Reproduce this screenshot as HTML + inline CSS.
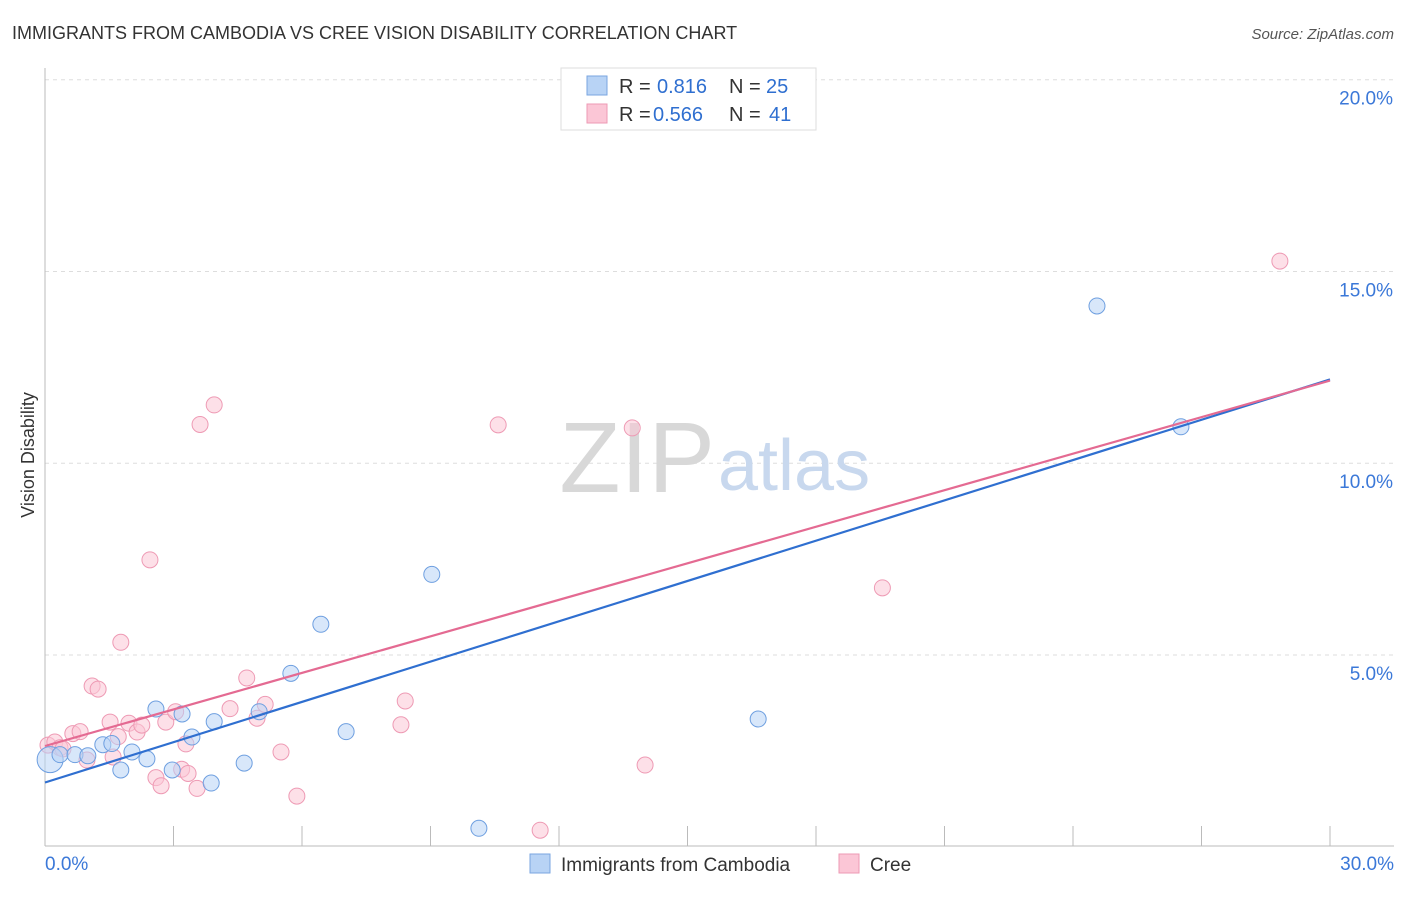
<!DOCTYPE html>
<html><head><meta charset="utf-8"><style>
body{margin:0;background:#fff;font-family:"Liberation Sans",sans-serif;}
svg text{font-family:"Liberation Sans",sans-serif;}
</style></head><body>
<svg id="chart" width="1406" height="892">
<text x="12" y="39" font-size="18" fill="#333">IMMIGRANTS FROM CAMBODIA VS CREE VISION DISABILITY CORRELATION CHART</text>
<text x="1394" y="39" font-size="15" fill="#555" font-style="italic" text-anchor="end">Source: ZipAtlas.com</text>
<g id="grid"></g>
<text x="715" y="492" font-size="100" fill="#d8d8d8" font-family="Liberation Serif" text-anchor="end">ZIP</text>
<text x="718" y="490" font-size="72" fill="#c8d8ee">atlas</text>
<text transform="translate(34,455) rotate(-90)" font-size="18" fill="#333" text-anchor="middle">Vision Disability</text>
<g id="points"></g>
<g id="lines"></g>
<g>
<rect x="561" y="68" width="255" height="62" fill="#fff" stroke="#ddd"/>
<rect x="587" y="76" width="20" height="19" fill="#b8d3f5" stroke="#7aa6e0"/>
<rect x="587" y="104" width="20" height="19" fill="#fbc6d6" stroke="#ee9ab4"/>
<text x="619" y="93" font-size="20" fill="#333">R =</text>
<text x="657" y="93" font-size="20" fill="#2f6fd0">0.816</text>
<text x="729" y="93" font-size="20" fill="#333">N =</text>
<text x="766" y="93" font-size="20" fill="#2f6fd0">25</text>
<text x="619" y="121" font-size="20" fill="#333">R =</text>
<text x="653" y="121" font-size="20" fill="#2f6fd0">0.566</text>
<text x="729" y="121" font-size="20" fill="#333">N =</text>
<text x="769" y="121" font-size="20" fill="#2f6fd0">41</text>
</g>
<g>
<rect x="530" y="854" width="20" height="19" fill="#b8d3f5" stroke="#7aa6e0"/>
<text x="561" y="871" font-size="19" fill="#333">Immigrants from Cambodia</text>
<rect x="839" y="854" width="20" height="19" fill="#fbc6d6" stroke="#ee9ab4"/>
<text x="870" y="871" font-size="19" fill="#333">Cree</text>
</g>
</svg>
<script>
const blueX=[0.12,0.35,0.7,1.0,1.35,1.56,1.77,2.03,2.38,2.59,2.97,3.2,3.43,3.88,3.95,4.65,5.0,5.74,6.44,7.03,9.03,10.13,16.65,24.56,26.52];
const blueY=[2.27,2.4,2.4,2.37,2.66,2.69,2.0,2.47,2.29,3.59,2.0,3.46,2.86,1.66,3.26,2.18,3.52,4.52,5.8,3.0,7.1,0.48,3.33,14.1,10.95];
const pinkX=[0.07,0.23,0.35,0.42,0.65,0.82,0.98,1.1,1.24,1.52,1.59,1.71,1.77,1.96,2.15,2.26,2.45,2.59,2.71,2.82,3.05,3.19,3.29,3.34,3.55,3.62,3.95,4.32,4.71,4.95,5.14,5.51,5.88,8.31,8.41,10.58,11.56,13.71,14.01,19.55,28.83];
const pinkY=[2.65,2.73,2.58,2.55,2.95,3.0,2.26,4.19,4.11,3.25,2.34,2.87,5.33,3.22,2.99,3.17,7.48,1.8,1.59,3.25,3.52,2.02,2.68,1.91,1.52,11.01,11.52,3.6,4.4,3.35,3.71,2.47,1.32,3.18,3.8,11.0,0.43,10.92,2.13,6.75,15.27];
const yTicks=[5,10,15,20];
const yTickLabels=["5.0%","10.0%","15.0%","20.0%"];
const xEnds=["0.0%","30.0%"];
const X0=45,X1=1330,Y0=846.7,PXY=38.35;
const sx=v=>X0+v*(X1-X0)/30, sy=v=>Y0-v*PXY;
const NS="http://www.w3.org/2000/svg";
function mk(tag,attrs,parent){const e=document.createElementNS(NS,tag);for(const k in attrs)e.setAttribute(k,attrs[k]);parent.appendChild(e);return e;}
const grid=document.getElementById('grid');
yTicks.forEach((t,i)=>{
 const l=mk('line',{x1:45,x2:1394,y1:sy(t),y2:sy(t),stroke:'#ddd','stroke-dasharray':'4,4'},grid);
 
 
 const tx=mk('text',{x:1393,y:sy(t)+25,'font-size':19,fill:'#3b78d8','text-anchor':'end'},grid);
 tx.textContent=yTickLabels[i];
 
 
});
const ya=mk('line',{x1:45,x2:45,y1:68,y2:846,stroke:'#bbb'},grid);


const xa=mk('line',{x1:45,x2:1394,y1:846,y2:846,stroke:'#bbb'},grid);


for(let v=3;v<=30;v+=3){
 const t=mk('line',{x1:sx(v),x2:sx(v),y1:826,y2:846,stroke:'#bbb'},grid);
 
 
}
[[0,'start',45],[30,'end',1394]].forEach((a,i)=>{
 const tx=mk('text',{x:a[2],y:870,'font-size':19,fill:'#3b78d8','text-anchor':a[1]},grid);
 tx.textContent=xEnds[i];
 
 
});
const pts=document.getElementById('points');
function drawPts(xs,ys,fill,stroke,name){
 xs.forEach((x,i)=>{
  const c=mk('circle',{cx:sx(x),cy:sy(ys[i]),r:i===0&&name==='cambodia-point'?13:8,fill:fill,'fill-opacity':0.55,stroke:stroke,'stroke-width':1},pts);
  
  
 });
}
drawPts(pinkX,pinkY,'#fbc6d6','#ee9ab4','cree-point');
drawPts(blueX,blueY,'#b8d3f5','#6e9fe0','cambodia-point');
function fit(xs,ys){const n=xs.length;let mx=0,my=0;xs.forEach((x,i)=>{mx+=x;my+=ys[i];});mx/=n;my/=n;let sxy=0,sxx=0;xs.forEach((x,i)=>{sxy+=(x-mx)*(ys[i]-my);sxx+=(x-mx)*(x-mx);});const b=sxy/sxx;return[my-b*mx,b];}
const lines=document.getElementById('lines');
[[blueX,blueY,'#2f6fd0','cambodia-trend-line'],[pinkX,pinkY,'#e46a92','cree-trend-line']].forEach(s=>{
 const f=fit(s[0],s[1]);
 const l=mk('line',{x1:sx(0),y1:sy(f[0]),x2:sx(30),y2:sy(f[0]+30*f[1]),stroke:s[2],'stroke-width':2.2},lines);
 
 
});
</script>
</body></html>
